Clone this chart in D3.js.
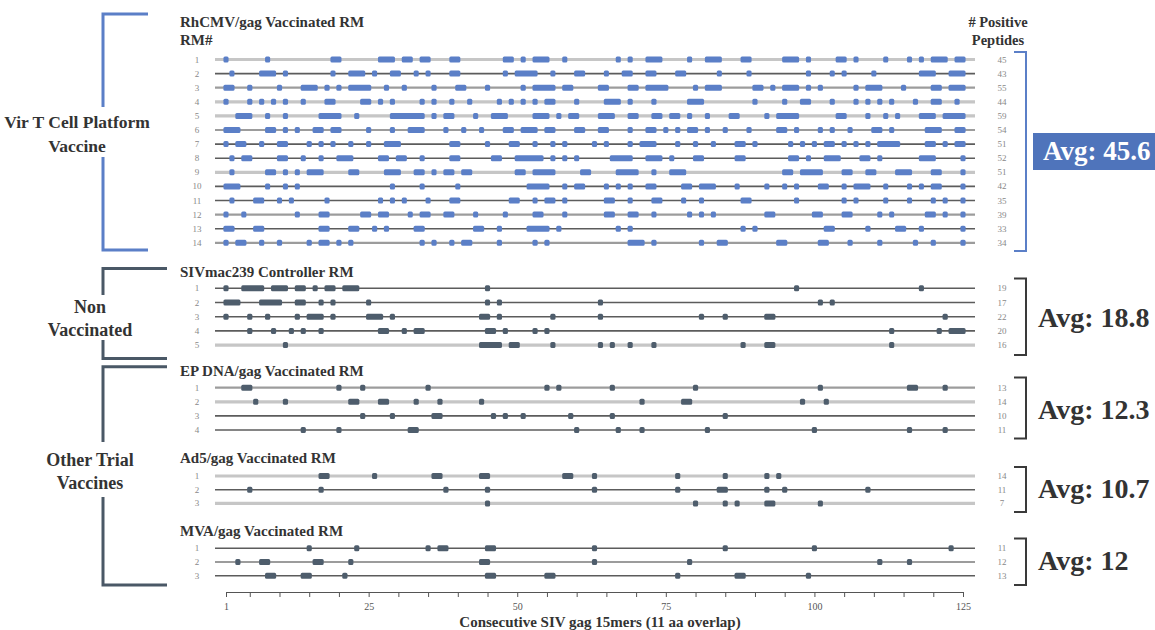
<!DOCTYPE html>
<html><head><meta charset="utf-8">
<script src="https://cdn.jsdelivr.net/npm/d3@7"></script>
<style>
body{margin:0;background:#fff}
svg{display:block}
text{font-family:"Liberation Serif","Times New Roman",serif}
</style>
</head><body>
<svg id="c" width="1155" height="630"></svg>
<script>
// ---------------- DATA ----------------
const sectionTitles = ["RhCMV/gag Vaccinated RM","SIVmac239 Controller RM","EP DNA/gag Vaccinated RM","Ad5/gag Vaccinated RM","MVA/gag Vaccinated RM"];
const groupLabels = [["Vir T Cell Platform","Vaccine"],["Non","Vaccinated"],["Other Trial","Vaccines"]];
const avgLabels = ["Avg: 45.6","Avg: 18.8","Avg: 12.3","Avg: 10.7","Avg: 12"];
const countHeader = ["# Positive","Peptides"];
const rowHeader = "RM#";
const axisTitle = "Consecutive SIV gag 15mers (11 aa overlap)";
const axisTicks = [1,5,10,15,20,25,30,35,40,45,50,55,60,65,70,75,80,85,90,95,100,105,110,115,120,125];
const axisLabels = [1,25,50,75,100,125];

// positive peptide runs [first, last] per animal
const rhcmvRows = [
 [[1,1],[8,8],[19,20],[27,29],[31,32],[34,35],[39,40],[48,49],[51,51],[53,55],[58,58],[67,67],[69,69],[72,74],[79,79],[82,84],[88,89],[95,97],[99,99],[104,105],[107,107],[112,112],[116,116],[118,118],[120,122],[124,125]],
 [[2,2],[7,9],[11,11],[19,19],[22,24],[26,26],[29,30],[33,33],[35,35],[39,40],[48,48],[50,53],[56,56],[60,61],[65,65],[68,69],[72,73],[77,78],[84,84],[89,89],[99,99],[103,103],[105,105],[110,110],[118,120],[123,125]],
 [[1,2],[5,5],[10,10],[14,16],[18,18],[20,20],[22,25],[28,28],[31,31],[36,36],[40,41],[45,45],[51,51],[53,56],[58,59],[64,65],[69,70],[72,75],[80,80],[82,84],[90,91],[93,93],[95,97],[99,99],[101,101],[107,107],[109,111],[115,115],[120,121],[123,125]],
 [[1,1],[5,5],[7,7],[9,9],[11,11],[14,14],[18,19],[24,25],[27,27],[29,29],[34,34],[36,36],[39,39],[42,42],[47,47],[49,49],[51,51],[53,53],[55,56],[60,60],[65,67],[69,69],[73,73],[79,81],[90,90],[95,95],[98,99],[103,103],[107,107],[109,109],[111,111],[113,113],[117,117],[120,121],[124,124]],
 [[3,5],[8,8],[11,11],[17,20],[23,23],[29,34],[36,36],[38,39],[43,43],[46,48],[53,55],[57,57],[59,60],[64,66],[69,70],[73,74],[76,77],[79,79],[82,82],[86,87],[92,92],[94,97],[104,105],[109,109],[112,112],[114,114],[118,120],[122,125]],
 [[1,3],[8,9],[11,11],[13,13],[16,17],[19,20],[25,25],[29,29],[32,34],[38,38],[41,41],[44,44],[48,49],[51,53],[55,56],[60,61],[64,65],[69,69],[72,73],[75,75],[77,77],[79,80],[82,82],[85,85],[89,89],[94,95],[97,97],[101,101],[103,103],[106,106],[110,111],[113,113],[119,121],[124,125]],
 [[1,1],[3,4],[7,7],[10,11],[15,15],[17,17],[19,19],[22,22],[25,25],[28,30],[39,40],[45,45],[49,50],[53,53],[56,56],[58,58],[63,63],[65,65],[69,69],[71,73],[77,77],[80,80],[83,83],[87,88],[90,90],[96,96],[98,98],[100,100],[102,103],[105,105],[107,107],[109,109],[111,114],[119,120],[122,122],[124,125]],
 [[2,2],[4,5],[10,11],[14,14],[17,17],[20,22],[27,28],[30,31],[34,34],[39,40],[46,47],[50,54],[56,56],[58,58],[60,60],[66,69],[72,74],[76,76],[80,81],[87,88],[96,97],[99,99],[102,104],[108,109],[111,111],[118,120],[125,125]],
 [[2,2],[8,9],[11,11],[13,13],[15,17],[22,23],[28,30],[33,34],[36,36],[38,39],[41,42],[50,51],[53,56],[61,62],[67,70],[73,73],[76,78],[95,96],[98,101],[105,106],[109,110],[114,116],[120,121],[125,125]],
 [[1,3],[8,8],[11,11],[13,13],[29,29],[34,34],[40,40],[52,55],[58,58],[60,61],[65,65],[67,67],[69,69],[72,73],[78,79],[81,83],[87,87],[92,92],[95,95],[97,97],[101,102],[105,105],[107,109],[112,112],[116,116],[118,118],[120,121],[125,125]],
 [[2,2],[6,7],[10,10],[12,12],[18,18],[27,27],[29,29],[31,31],[35,35],[39,40],[49,50],[53,53],[55,56],[58,58],[65,66],[69,69],[73,74],[78,78],[81,81],[88,89],[97,97],[105,105],[107,107],[112,112],[116,116],[120,120],[122,122],[125,125]],
 [[1,1],[4,4],[13,13],[17,18],[24,25],[27,28],[32,32],[34,35],[38,39],[43,43],[48,48],[53,54],[58,58],[65,66],[69,70],[73,73],[79,79],[81,81],[83,83],[92,93],[100,101],[105,106],[111,111],[113,113],[119,120],[122,122],[125,125]],
 [[1,2],[6,7],[17,18],[22,23],[26,26],[28,28],[33,34],[43,44],[47,47],[52,55],[57,57],[67,67],[69,69],[88,88],[90,90],[102,103],[109,109],[114,115],[118,118],[125,125]],
 [[1,1],[3,4],[7,7],[10,10],[15,15],[17,18],[20,20],[22,22],[34,34],[36,36],[39,39],[41,42],[47,47],[53,53],[55,55],[69,71],[73,73],[81,81],[84,85],[94,95],[101,102],[106,106],[111,111],[117,117],[120,120],[125,125]]
];
const sivRows = [
 [[1,1],[4,7],[9,11],[13,14],[16,16],[18,19],[21,23],[45,45],[97,97],[118,118]],
 [[1,3],[7,10],[13,14],[17,17],[19,19],[25,25],[45,45],[47,47],[64,64],[101,101],[103,103]],
 [[1,1],[5,5],[8,8],[13,13],[15,17],[19,19],[25,27],[29,29],[44,45],[47,47],[56,56],[64,64],[81,81],[85,85],[92,93],[122,122]],
 [[5,5],[9,9],[12,12],[14,14],[17,17],[27,28],[31,31],[33,34],[45,46],[48,48],[53,53],[55,55],[113,113],[121,121],[123,125]],
 [[11,11],[44,47],[49,50],[56,56],[64,64],[66,66],[69,69],[73,73],[88,88],[92,93],[113,113]]
];
const epRows = [
 [[4,5],[20,20],[24,24],[35,35],[55,55],[57,57],[66,66],[80,80],[101,101],[116,117],[122,122]],
 [[6,6],[11,11],[22,23],[27,28],[33,33],[37,37],[44,44],[71,71],[78,79],[98,98],[102,102]],
 [[24,24],[29,29],[36,37],[46,46],[48,48],[51,51],[59,59],[66,66],[85,85]],
 [[14,14],[20,20],[32,33],[60,60],[67,67],[71,71],[82,82],[100,100],[116,116],[122,122]]
];
const ad5Rows = [
 [[17,18],[26,26],[36,37],[44,45],[58,59],[63,63],[77,77],[85,85],[92,92],[94,94]],
 [[5,5],[17,17],[38,38],[45,45],[63,63],[77,77],[84,85],[92,92],[95,95],[109,109]],
 [[45,45],[80,80],[85,85],[87,87],[92,93],[101,101]]
];
const mvaRows = [
 [[15,15],[23,23],[35,35],[37,38],[45,46],[63,63],[85,85],[100,100],[123,123]],
 [[3,3],[7,8],[16,17],[22,22],[44,45],[63,63],[79,79],[111,111],[116,116]],
 [[8,9],[14,15],[21,21],[45,46],[55,56],[77,77],[87,88],[99,99]]
];
const rhcmvCounts = [45,43,55,44,59,54,51,52,51,42,35,39,33,34];
const sivCounts = [19,17,22,20,16];
const epCounts = [13,14,10,11];
const ad5Counts = [14,11,7];
const mvaCounts = [11,12,13];

// ---------------- LAYOUT ----------------
const BLUE = "#5b7fc7", SLATE = "#4e5d6c", DARKTXT = "#333";
const lineStyle = {L:{c:"#c6c6c6",w:3.2}, M:{c:"#9c9c9c",w:2.2}, D:{c:"#5c5c5c",w:1.6}};
const sections = [
 {rows:rhcmvRows, counts:rhcmvCounts, y0:59.5, step:14.1, titleY:27, fill:BLUE, styles:"LDMLLMDDLDDMDM", br:[52,251], brColor:BLUE, avgY:160},
 {rows:sivRows, counts:sivCounts, y0:288.3, step:14.2, titleY:276.5, fill:SLATE, styles:"DDDDL", br:[278.5,355], brColor:"#3a3a3a", avgY:327},
 {rows:epRows, counts:epCounts, y0:387.7, step:14.1, titleY:376, fill:SLATE, styles:"MLDD", br:[377.5,438.5], brColor:"#3a3a3a", avgY:418.5},
 {rows:ad5Rows, counts:ad5Counts, y0:476, step:13.7, titleY:463, fill:SLATE, styles:"LDL", br:[467,512], brColor:"#3a3a3a", avgY:497.5},
 {rows:mvaRows, counts:mvaCounts, y0:548.3, step:13.7, titleY:536, fill:SLATE, styles:"DMD", br:[538.5,585], brColor:"#3a3a3a", avgY:569.5}
];

const svg = d3.select("#c");
const xs = d3.scaleLinear().domain([1,125]).range([226,963]);
const half = (xs(2)-xs(1))/2;

sections.forEach((s,si)=>{
  svg.append("text").attr("x",180).attr("y",s.titleY).attr("font-size",15).attr("font-weight","bold")
     .attr("fill",DARKTXT).text(sectionTitles[si]);
  const g = svg.append("g");
  s.rows.forEach((runs,ri)=>{
    const y = s.y0 + ri*s.step;
    const st = lineStyle[s.styles[ri]];
    g.append("line").attr("x1",xs(1)-11).attr("x2",xs(125)+12).attr("y1",y).attr("y2",y)
      .attr("stroke",st.c).attr("stroke-width",st.w);
    g.selectAll(null).data(runs).enter().append("rect")
      .attr("x",d=>xs(d[0])-half+0.4).attr("width",d=>xs(d[1])-xs(d[0])+2*half-0.8)
      .attr("y",y-3).attr("height",6).attr("rx",1.5).attr("fill",s.fill);
    g.append("text").attr("x",197).attr("y",y+3).attr("text-anchor","middle").attr("font-size",9)
      .attr("fill","#888").text(ri+1);
    g.append("text").attr("x",1002).attr("y",y+3).attr("text-anchor","middle").attr("font-size",9)
      .attr("fill","#888").text(s.counts[ri]);
  });
  svg.append("path").attr("d",`M1014,${s.br[0]}H1026V${s.br[1]}H1014`).attr("fill","none")
     .attr("stroke",s.brColor).attr("stroke-width",2);
  if(si===0){
    svg.append("rect").attr("x",1033).attr("y",133).attr("width",130).attr("height",37).attr("fill","#4f74bb");
    svg.append("text").attr("x",1043).attr("y",s.avgY).attr("font-size",27).attr("font-weight","bold")
       .attr("fill","#fff").text(avgLabels[si]);
  } else {
    svg.append("text").attr("x",1038).attr("y",s.avgY).attr("font-size",28).attr("font-weight","bold")
       .attr("fill",DARKTXT).text(avgLabels[si]);
  }
});

svg.append("text").attr("x",180).attr("y",45).attr("font-size",15).attr("font-weight","bold").attr("fill",DARKTXT).text(rowHeader);
countHeader.forEach((t,i)=>svg.append("text").attr("x",998).attr("y",27+i*18).attr("text-anchor","middle")
   .attr("font-size",14.5).attr("font-weight","bold").attr("fill",DARKTXT).text(t));

const groups = [
 {top:14, bot:250, right:148, color:BLUE, gap:[107,157], cx:77, ty:[128,152], fs:17.5},
 {top:268.5, bot:358.5, right:167, color:"#4a5866", gap:[295,340], cx:90, ty:[313,336], fs:18},
 {top:366.7, bot:585, right:167, color:"#4a5866", gap:[442,497], cx:90, ty:[466,489], fs:18}
];
groups.forEach((g,gi)=>{
  svg.append("path").attr("d",`M${g.right},${g.top}H103V${g.bot}H${g.right}`).attr("fill","none")
     .attr("stroke",g.color).attr("stroke-width",3);
  svg.append("rect").attr("x",0).attr("y",g.gap[0]).attr("width",165).attr("height",g.gap[1]-g.gap[0]).attr("fill","#fff");
  groupLabels[gi].forEach((t,i)=>svg.append("text").attr("x",g.cx).attr("y",g.ty[i]).attr("text-anchor","middle")
     .attr("font-size",g.fs).attr("font-weight","bold").attr("fill",DARKTXT).text(t));
});

const axis = d3.axisBottom(xs).tickValues(axisTicks).tickSize(5).tickSizeOuter(0).tickPadding(6)
  .tickFormat(d=>axisLabels.includes(d)?d:"");
const ag = svg.append("g").attr("transform","translate(0,592)").call(axis);
ag.select(".domain").attr("stroke","#555");
ag.selectAll(".tick line").attr("stroke","#555");
ag.selectAll(".tick text").attr("font-size",10).attr("fill","#555").attr("font-family","'Liberation Serif',serif");
svg.append("text").attr("x",600).attr("y",627).attr("text-anchor","middle").attr("font-size",15)
   .attr("font-weight","bold").attr("fill",DARKTXT).text(axisTitle);
</script>
</body></html>
